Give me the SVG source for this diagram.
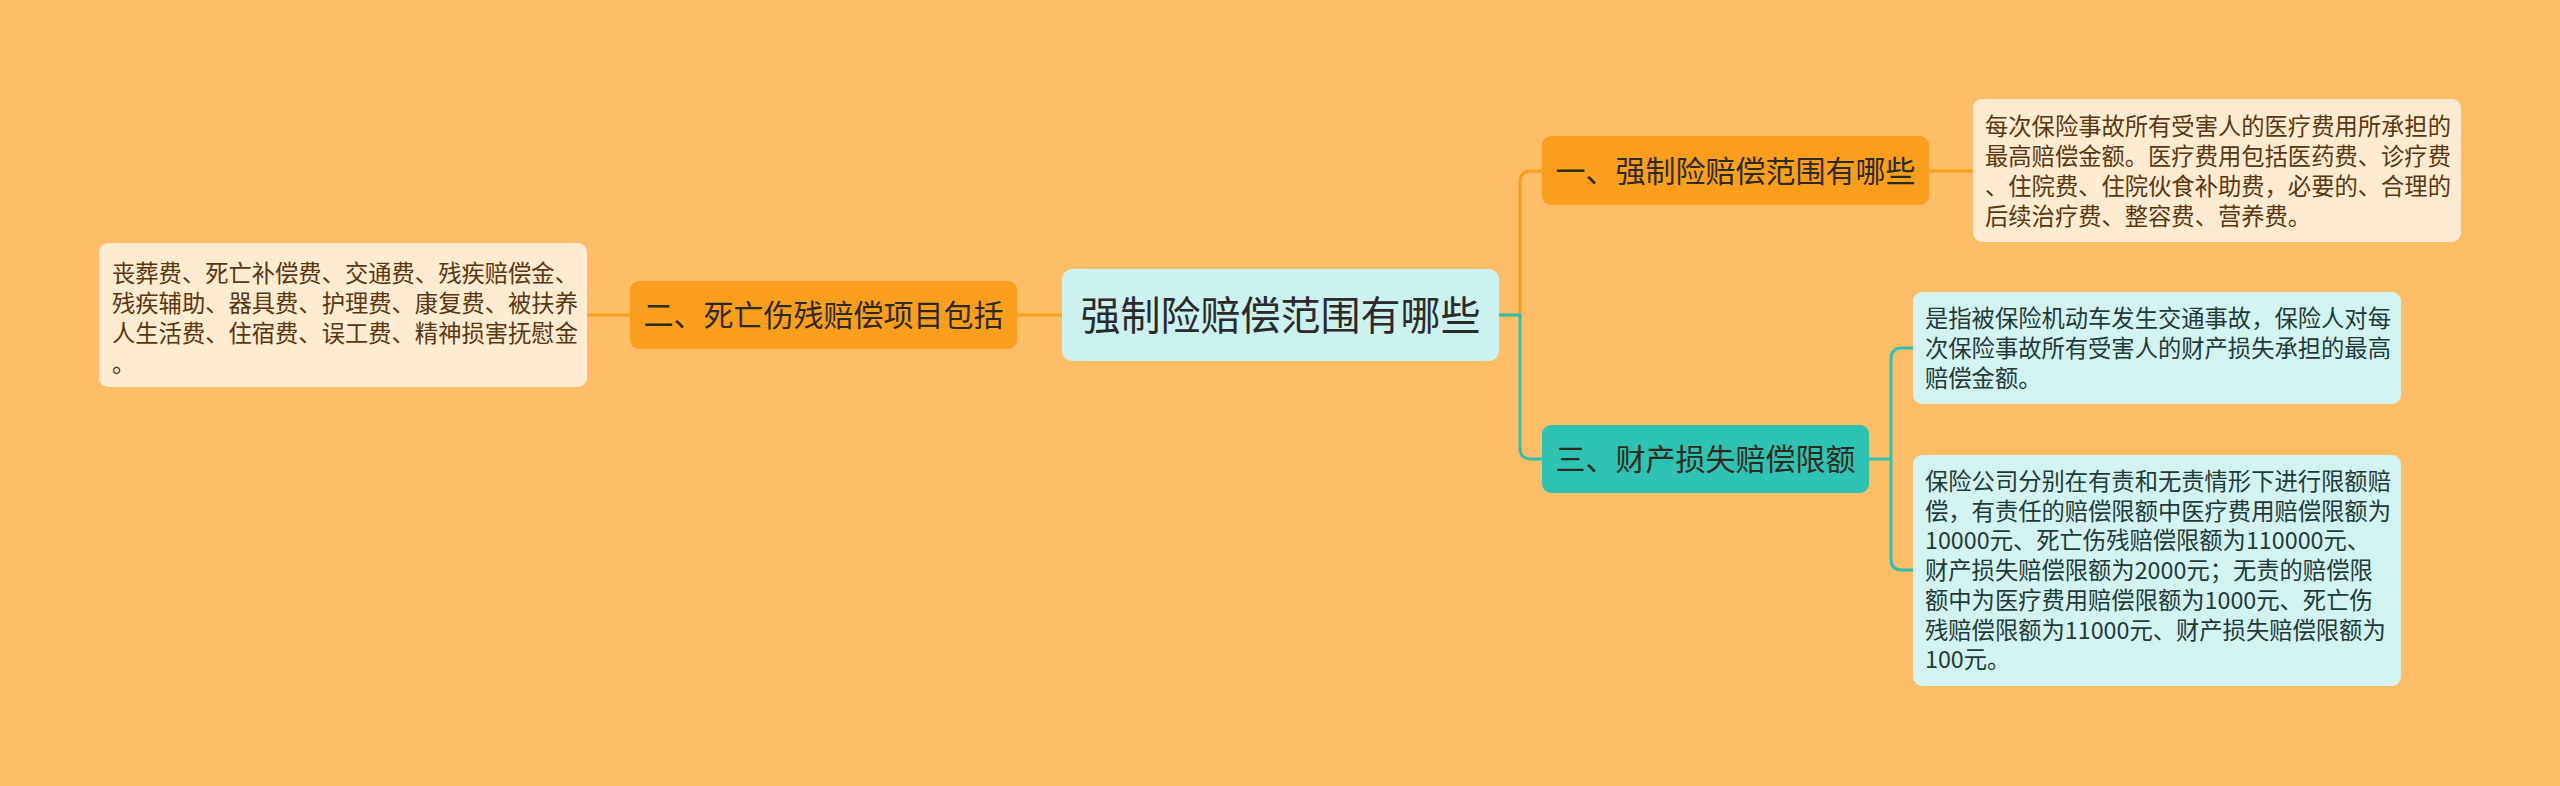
<svg xmlns="http://www.w3.org/2000/svg" width="2560" height="786" viewBox="0 0 2560 786">
<style>
text{font-family:"Noto Sans CJK SC","Noto Sans",sans-serif;}
.root{fill:#CCF2EF;}
.org{fill:#FA9E1E;}
.teal{fill:#2EC2B2;}
.lo{fill:#FEEBD1;}
.lt{fill:#D3F3F0;}
.tr{font-size:40px;fill:#2b2b2b;text-anchor:middle;}
.tn{font-size:30px;fill:#2e2a20;text-anchor:middle;}
.tlo{font-size:23.3px;fill:#5a3710;}
.tlt{font-size:23.3px;fill:#1f3a38;}
.co{fill:none;stroke:#F99E1F;stroke-width:3;}
.ct{fill:none;stroke:#2EC2B2;stroke-width:3;}
</style>
<rect x="0" y="0" width="2560" height="786" fill="#FEBE68"/>
<g id="connectors">
<path class="co" d="M1062,315 H1017"/>
<path class="co" d="M630,315 H587"/>
<path class="co" d="M1499,315 H1520 V182 Q1520,171 1531,171 H1542"/>
<path class="ct" d="M1499,315 H1520 V448 Q1520,459 1531,459 H1542"/>
<path class="co" d="M1929,171 H1973"/>
<path class="ct" d="M1869,459 H1891"/>
<path class="ct" d="M1891,459 V359 Q1891,348 1902,348 H1913"/>
<path class="ct" d="M1891,459 V559 Q1891,570 1902,570 H1913"/>
</g>
<g id="root">
<rect class="root" x="1062" y="269" width="437" height="92" rx="10"/>
<text class="tr" x="1280.5" y="330">强制险赔偿范围有哪些</text>
</g>
<g id="node-two">
<rect class="org" x="630" y="281" width="387" height="68" rx="9"/>
<text class="tn" x="823.5" y="326.4">二、死亡伤残赔偿项目包括</text>
</g>
<g id="leaf-two">
<rect class="lo" x="99" y="243" width="488" height="144" rx="9"/>
<text class="tlo" x="112" y="281.5">丧葬费、死亡补偿费、交通费、残疾赔偿金、</text>
<text class="tlo" x="112" y="311.5">残疾辅助、器具费、护理费、康复费、被扶养</text>
<text class="tlo" x="112" y="341.5">人生活费、住宿费、误工费、精神损害抚慰金</text>
<text class="tlo" x="112" y="371.5">。</text>
</g>
<g id="node-one">
<rect class="org" x="1542" y="136" width="387" height="69" rx="9"/>
<text class="tn" x="1735.5" y="182">一、强制险赔偿范围有哪些</text>
</g>
<g id="leaf-one">
<rect class="lo" x="1973" y="99" width="488" height="143" rx="9"/>
<text class="tlo" x="1985" y="134.5">每次保险事故所有受害人的医疗费用所承担的</text>
<text class="tlo" x="1985" y="164.5">最高赔偿金额。医疗费用包括医药费、诊疗费</text>
<text class="tlo" x="1985" y="194.5">、住院费、住院伙食补助费，必要的、合理的</text>
<text class="tlo" x="1985" y="224.5">后续治疗费、整容费、营养费。</text>
</g>
<g id="node-three">
<rect class="teal" x="1542" y="425" width="327" height="68" rx="9"/>
<text class="tn" x="1705.5" y="470.4">三、财产损失赔偿限额</text>
</g>
<g id="leaf-three-a">
<rect class="lt" x="1913" y="292" width="488" height="112" rx="9"/>
<text class="tlt" x="1925" y="326.5">是指被保险机动车发生交通事故，保险人对每</text>
<text class="tlt" x="1925" y="356.5">次保险事故所有受害人的财产损失承担的最高</text>
<text class="tlt" x="1925" y="386.5">赔偿金额。</text>
</g>
<g id="leaf-three-b">
<rect class="lt" x="1913" y="455" width="488" height="231" rx="9"/>
<text class="tlt" x="1925" y="490">保险公司分别在有责和无责情形下进行限额赔</text>
<text class="tlt" x="1925" y="519.7">偿，有责任的赔偿限额中医疗费用赔偿限额为</text>
<text class="tlt" x="1925" y="549.4">10000元、死亡伤残赔偿限额为110000元、</text>
<text class="tlt" x="1925" y="579.1">财产损失赔偿限额为2000元；无责的赔偿限</text>
<text class="tlt" x="1925" y="608.8">额中为医疗费用赔偿限额为1000元、死亡伤</text>
<text class="tlt" x="1925" y="638.5">残赔偿限额为11000元、财产损失赔偿限额为</text>
<text class="tlt" x="1925" y="668.2">100元。</text>
</g>
</svg>
